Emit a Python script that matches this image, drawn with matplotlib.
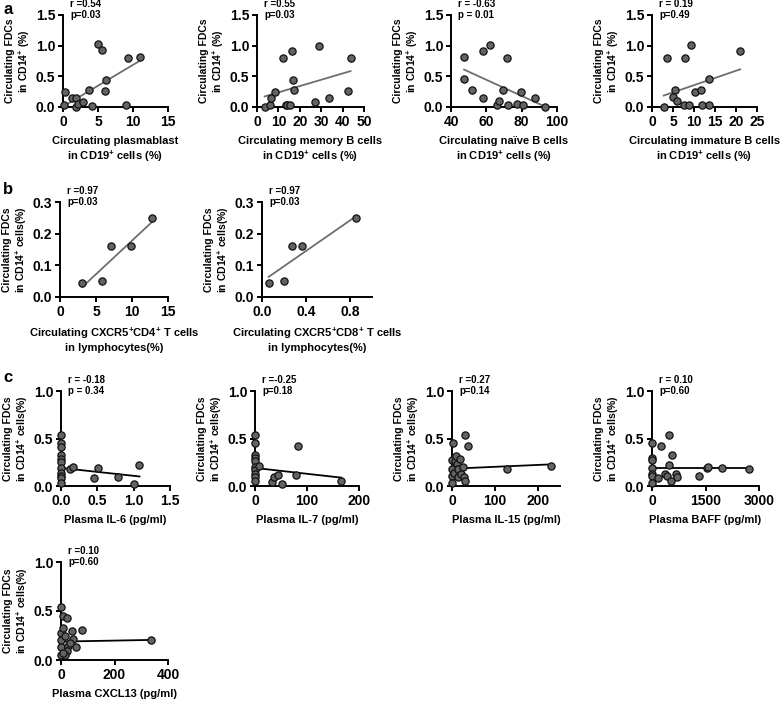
import numpy as np
import matplotlib.pyplot as plt
from matplotlib import font_manager

# pick an Arial-like family that really has a bold face
family = 'DejaVu Sans'
for fam in ['Liberation Sans', 'Roboto', 'Noto Sans', 'Open Sans', 'Lato', 'Inter']:
    path = font_manager.findfont(font_manager.FontProperties(family=fam, weight='bold'), fallback_to_default=False)
    if 'bold' in path.lower() and fam.replace(' ', '').lower() in path.replace(' ', '').lower():
        family = fam
        break

plt.rcParams['font.family'] = [family, 'DejaVu Sans']
plt.rcParams['font.weight'] = 'bold'
plt.rcParams['mathtext.fontset'] = 'custom'
plt.rcParams['mathtext.rm'] = family + ':bold'
plt.rcParams['mathtext.it'] = family + ':bold'
plt.rcParams['mathtext.bf'] = family + ':bold'
plt.rcParams['mathtext.default'] = 'rm'

# ---- data ----
a1_x = [0.3, 0.14, 1.3, 1.9, 1.8, 2.1, 2.8, 3.7, 4.2, 5.05, 5.5, 6.2, 6.0, 8.95, 9.3, 11.0]
a1_y = [0.24, 0.03, 0.14, 0.14, 0.0, 0.05, 0.08, 0.27, 0.02, 1.02, 0.93, 0.44, 0.26, 0.03, 0.8, 0.81]
a2_x = [3.6, 6.3, 6.6, 8.2, 12.1, 13.4, 14.2, 15.4, 16.2, 16.8, 17.3, 27.0, 28.8, 33.8, 42.5, 43.7]
a2_y = [0.0, 0.03, 0.15, 0.24, 0.8, 0.03, 0.04, 0.03, 0.92, 0.44, 0.28, 0.08, 1.0, 0.15, 0.26, 0.8]
a3_x = [47.4, 47.4, 51.9, 58.0, 58.2, 61.8, 66.0, 66.9, 69.2, 71.8, 72.2, 77.3, 79.6, 80.9, 87.4, 93.0]
a3_y = [0.81, 0.45, 0.27, 0.15, 0.92, 1.01, 0.03, 0.09, 0.27, 0.8, 0.03, 0.05, 0.24, 0.04, 0.15, 0.0]
a4_x = [2.8, 3.5, 5.4, 5.1, 5.9, 7.5, 7.9, 8.8, 9.3, 10.3, 11.7, 11.8, 13.6, 13.6, 21.0]
a4_y = [0.0, 0.8, 0.27, 0.16, 0.1, 0.04, 0.8, 0.04, 1.01, 0.24, 0.28, 0.03, 0.45, 0.03, 0.92]
b1_x = [3.1, 5.8, 7.1, 9.8, 12.8]
b1_y = [0.045, 0.05, 0.16, 0.16, 0.25]
b2_x = [0.06, 0.2, 0.27, 0.36, 0.85]
b2_y = [0.045, 0.05, 0.16, 0.16, 0.25]
c1_x = [0, 0, 0, 0, 0, 0, 0, 0, 0, 0, 0, 0.12, 0.17, 0.51, 0.45, 0.78, 1.0, 1.08]
c1_y = [0.54, 0.45, 0.41, 0.33, 0.28, 0.25, 0.19, 0.14, 0.11, 0.08, 0.03, 0.18, 0.2, 0.19, 0.08, 0.09, 0.02, 0.22]
c2_x = [0, 0, 0, 0, 0, 0, 0, 0, 0, 0, 8, 32, 36, 45, 52, 78, 82, 166]
c2_y = [0.54, 0.45, 0.33, 0.29, 0.26, 0.2, 0.17, 0.13, 0.1, 0.05, 0.21, 0.04, 0.1, 0.12, 0.02, 0.12, 0.42, 0.05]
c3_x = [0, 0, 0, 0, 3, 5, 8, 9, 11, 13, 15, 15, 18, 21, 25, 28, 31, 31, 36, 128, 230]
c3_y = [0.27, 0.18, 0.11, 0.03, 0.45, 0.14, 0.26, 0.32, 0.23, 0.18, 0.09, 0.18, 0.28, 0.13, 0.2, 0.1, 0.05, 0.54, 0.42, 0.18, 0.21]
c4_x = [0, 0, 0, 0, 0, 0, 0, 170, 240, 370, 410, 465, 490, 540, 560, 680, 700, 1320, 1530, 1580, 1960, 2720]
c4_y = [0.45, 0.3, 0.27, 0.19, 0.13, 0.11, 0.03, 0.08, 0.42, 0.13, 0.11, 0.22, 0.54, 0.05, 0.33, 0.13, 0.09, 0.11, 0.19, 0.2, 0.19, 0.18]
c5_x = [0, 0, 0, 0, 0, 9, 21, 9, 15, 27, 40, 77, 43, 56, 21, 15, 34, 6, 338]
c5_y = [0.54, 0.28, 0.2, 0.13, 0.05, 0.45, 0.43, 0.33, 0.24, 0.14, 0.3, 0.31, 0.21, 0.13, 0.09, 0.05, 0.17, 0.07, 0.2]

# regression lines as reported in the figure (intercept, slope)
fit_intercept = [0.007, 0.135, 1.234, 0.121, -0.034, 0.049, 0.19, 0.19, 0.182, 0.19, 0.188]
fit_slope = [0.068, 0.0103, -0.01317, 0.0235, 0.0212, 0.241, -0.083, -0.000615, 0.0002, 0.0, 0.00005]

r_labels = ["r =0.54", "r =0.55", "r = -0.63", "r = 0.19", "r =0.97", "r =0.97",
            "r = -0.18", "r =-0.25", "r =0.27", "r = 0.10", "r =0.10"]
p_labels = ["p=0.03", "p=0.03", "p = 0.01", "p=0.49", "p=0.03", "p=0.03",
            "p = 0.34", "p=0.18", "p=0.14", "p=0.60", "p=0.60"]

ylab_a = "Circulating FDCs\nin CD14$^{+}$ (%)"
ylab_bc = "Circulating FDCs\nin CD14$^{+}$ cells(%)"
xlabels = ["Circulating plasmablast\nin CD19$^{+}$ cells (%)",
           "Circulating memory B cells\nin CD19$^{+}$ cells (%)",
           "Circulating naïve B cells\nin CD19$^{+}$ cells (%)",
           "Circulating immature B cells\nin CD19$^{+}$ cells (%)",
           "Circulating CXCR5$^{+}$CD4$^{+}$ T cells\nin lymphocytes(%)",
           "Circulating CXCR5$^{+}$CD8$^{+}$ T cells\nin lymphocytes(%)",
           "Plasma IL-6 (pg/ml)", "Plasma IL-7 (pg/ml)", "Plasma IL-15 (pg/ml)",
           "Plasma BAFF (pg/ml)", "Plasma CXCL13 (pg/ml)"]

xs = [a1_x, a2_x, a3_x, a4_x, b1_x, b2_x, c1_x, c2_x, c3_x, c4_x, c5_x]
ys = [a1_y, a2_y, a3_y, a4_y, b1_y, b2_y, c1_y, c2_y, c3_y, c4_y, c5_y]

# layout: pixel boxes (left, top, right, bottom), axis limits, ticks
W, H = 783, 701
boxes = [(63, 15, 168, 107), (257, 15, 364, 107), (451, 15, 557, 107), (652, 15, 757, 107),
         (60, 202, 168, 297), (262, 202, 372, 297),
         (61, 391, 170, 486), (255, 391, 359, 486), (452, 391, 560, 486), (652, 391, 759, 486),
         (61, 562, 168, 660)]
xlims = [(0, 15), (0, 50), (40, 100), (0, 25), (0, 15), (0, 1.0),
         (0, 1.5), (0, 200), (0, 250), (0, 3000), (0, 400)]
xticks = [[0, 5, 10, 15], [0, 10, 20, 30, 40, 50], [40, 60, 80, 100], [0, 5, 10, 15, 20, 25],
          [0, 5, 10, 15], [0.0, 0.4, 0.8],
          [0.0, 0.5, 1.0, 1.5], [0, 100, 200], [0, 100, 200], [0, 1500, 3000], [0, 200, 400]]
xfmt = ['%d', '%d', '%d', '%d', '%d', '%.1f', '%.1f', '%d', '%d', '%d', '%d']

fig = plt.figure(figsize=(W / 100, H / 100), dpi=100)

for i in range(11):
    l, t, r, b = boxes[i]
    ax = fig.add_axes([l / W, 1 - b / H, (r - l) / W, (b - t) / H])
    if i < 4:
        ax.set_ylim(0, 1.5)
        ax.set_yticks([0, 0.5, 1.0, 1.5])
        ylab = ylab_a
        lc = '#6e6e6e'
    elif i < 6:
        ax.set_ylim(0, 0.3)
        ax.set_yticks([0, 0.1, 0.2, 0.3])
        ylab = ylab_bc
        lc = '#6e6e6e'
    else:
        ax.set_ylim(0, 1.0)
        ax.set_yticks([0, 0.5, 1.0])
        ylab = ylab_bc
        lc = 'black'
    ax.set_xlim(*xlims[i])
    ax.set_xticks(xticks[i])
    ax.set_xticklabels([xfmt[i] % v for v in xticks[i]], fontweight='bold')
    ax.set_yticklabels(['%.1f' % v for v in ax.get_yticks()], fontweight='bold')
    for s in ['top', 'right']:
        ax.spines[s].set_visible(False)
    for s in ['left', 'bottom']:
        ax.spines[s].set_linewidth(1.4)
    ax.tick_params(width=1.4, length=3.5, labelsize=10, pad=2)

    x = np.array(xs[i], dtype=float)
    y = np.array(ys[i], dtype=float)
    xx = np.array([x.min(), x.max()])
    ax.plot(xx, fit_intercept[i] + fit_slope[i] * xx, color=lc, lw=1.3, zorder=2)
    ax.plot(x, y, 'o', ms=5.2, mfc='#636363', mec='#111111', mew=0.9, clip_on=False, zorder=3)

    ax.set_ylabel(ylab, fontsize=7.5, fontweight='bold', labelpad=3, linespacing=1.15)
    ax.set_xlabel(xlabels[i], fontsize=8, fontweight='bold', labelpad=5, linespacing=1.3)

    ax.annotate(r_labels[i], xy=(0, 1), xycoords='axes fraction', xytext=(5, 8),
                textcoords='offset points', fontsize=7, fontweight='bold', va='center', ha='left')
    ax.annotate(p_labels[i], xy=(0, 1), xycoords='axes fraction', xytext=(5, 0),
                textcoords='offset points', fontsize=7, fontweight='bold', va='center', ha='left')

fig.text(3 / W, 1 - 9 / H, 'a', fontsize=12, fontweight='bold', va='center', ha='left')
fig.text(3 / W, 1 - 190 / H, 'b', fontsize=12, fontweight='bold', va='center', ha='left')
fig.text(3 / W, 1 - 378 / H, 'c', fontsize=12, fontweight='bold', va='center', ha='left')

fig.savefig('out.png', dpi=100)
